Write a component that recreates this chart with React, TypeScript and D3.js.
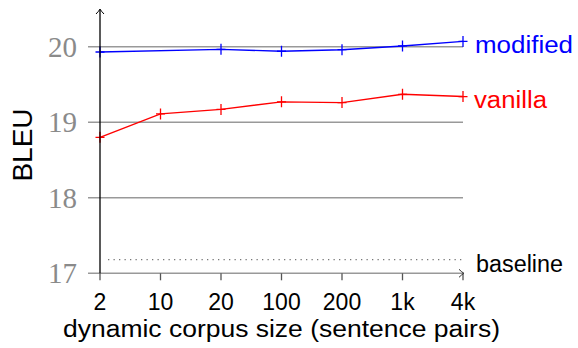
import React, { useEffect, useRef } from 'react';
import * as d3 from 'd3';

const categories = ['2', '10', '20', '100', '200', '1k', '4k'];
const vanilla = [18.8, 19.11, 19.17, 19.27, 19.26, 19.37, 19.34];
// no point for "10" in the modified run
const modified = [19.93, null, 19.965, 19.94, 19.96, 20.01, 20.07];
const baseline = 17.18;
const yTicks = [17, 18, 19, 20];

const App = () => {
  const svgRef = useRef<SVGSVGElement>(null);

  useEffect(() => {
    const boxWidth = 578;
    const boxHeight = 348;
    const sans = "'Liberation Sans', Arial, sans-serif";
    const serif = "'Liberation Serif', 'Times New Roman', serif";
    const gridColor = '#999999';

    const svg = d3.select(svgRef.current);
    svg.selectAll('*').remove();
    svg.attr('width', boxWidth).attr('height', boxHeight);

    const x = d3.scalePoint<string>()
      .domain(categories)
      .range([100, 463]);

    const y = d3.scaleLinear()
      .domain([17, 20])
      .range([273.3, 46.7]);

    // grid lines (17 doubles as the x axis line)
    svg.append('g')
      .selectAll('line')
      .data(yTicks)
      .join('line')
      .attr('x1', 88)
      .attr('x2', 463)
      .attr('y1', d => y(d))
      .attr('y2', d => y(d))
      .attr('stroke', gridColor)
      .attr('stroke-width', 1.6);

    // y tick labels
    svg.append('g')
      .selectAll('text')
      .data(yTicks)
      .join('text')
      .attr('x', 77)
      .attr('y', d => y(d) + 10)
      .attr('text-anchor', 'end')
      .style('font-family', serif)
      .style('font-size', '29px')
      .style('fill', '#8a8a8a')
      .text(d => d);

    // x ticks
    svg.append('g')
      .selectAll('line')
      .data(categories)
      .join('line')
      .attr('x1', d => x(d)!)
      .attr('x2', d => x(d)!)
      .attr('y1', y(17))
      .attr('y2', y(17) + 7)
      .attr('stroke', '#555')
      .attr('stroke-width', 1.3);

    svg.append('g')
      .selectAll('text')
      .data(categories)
      .join('text')
      .attr('x', d => x(d)!)
      .attr('y', 310)
      .attr('text-anchor', 'middle')
      .style('font-family', sans)
      .style('font-size', '23px')
      .style('fill', '#000')
      .text(d => d);

    // x axis arrow head
    const xe = x('4k')!;
    const y0 = y(17);
    svg.append('path')
      .attr('d', `M${xe - 4},${y0 - 4} Q${xe - 1},${y0 - 1} ${xe + 1},${y0} Q${xe - 1},${y0 + 1} ${xe - 4},${y0 + 4}`)
      .attr('fill', 'none')
      .attr('stroke', '#333')
      .attr('stroke-width', 1);

    // baseline (dotted)
    svg.append('line')
      .attr('x1', 108)
      .attr('x2', 463)
      .attr('y1', y(baseline))
      .attr('y2', y(baseline))
      .attr('stroke', '#777')
      .attr('stroke-width', 1.3)
      .attr('stroke-dasharray', '1.3,4.2');

    const drawSeries = (values: (number | null)[], color: string) => {
      const pts = categories
        .map((c, i) => ({ c, v: values[i] }))
        .filter(d => d.v !== null) as { c: string; v: number }[];

      const line = d3.line<{ c: string; v: number }>()
        .x(d => x(d.c)!)
        .y(d => y(d.v));

      svg.append('path')
        .datum(pts)
        .attr('d', line)
        .attr('fill', 'none')
        .attr('stroke', color)
        .attr('stroke-width', 1.4);

      const g = svg.append('g');
      g.selectAll('path')
        .data(pts)
        .join('path')
        .attr('d', d => {
          const px = x(d.c)!;
          const py = y(d.v);
          return `M${px - 4.5},${py}H${px + 4.5}M${px},${py - 5.5}V${py + 5.5}`;
        })
        .attr('stroke', color)
        .attr('stroke-width', 1.3);
    };

    drawSeries(vanilla, '#ff0000');
    drawSeries(modified, '#0000ff');

    // y axis with arrow
    svg.append('line')
      .attr('x1', 100)
      .attr('x2', 100)
      .attr('y1', y(17))
      .attr('y2', 10)
      .attr('stroke', '#000')
      .attr('stroke-width', 1.3);
    svg.append('path')
      .attr('d', 'M96,14 Q99,11 100,9 Q101,11 104,14')
      .attr('fill', 'none')
      .attr('stroke', '#000')
      .attr('stroke-width', 1);

    // series labels
    svg.append('text')
      .attr('x', 475)
      .attr('y', 52.5)
      .attr('textLength', 98)
      .attr('lengthAdjust', 'spacingAndGlyphs')
      .style('font-family', sans)
      .style('font-size', '23px')
      .style('fill', '#0000ff')
      .text('modified');

    svg.append('text')
      .attr('x', 474)
      .attr('y', 107.5)
      .attr('textLength', 73)
      .attr('lengthAdjust', 'spacingAndGlyphs')
      .style('font-family', sans)
      .style('font-size', '23px')
      .style('fill', '#ff0000')
      .text('vanilla');

    svg.append('text')
      .attr('x', 476)
      .attr('y', 272)
      .attr('textLength', 87)
      .attr('lengthAdjust', 'spacingAndGlyphs')
      .style('font-family', sans)
      .style('font-size', '23px')
      .style('fill', '#000')
      .text('baseline');

    // axis titles
    svg.append('text')
      .attr('x', 63)
      .attr('y', 337)
      .attr('textLength', 437)
      .attr('lengthAdjust', 'spacingAndGlyphs')
      .style('font-family', sans)
      .style('font-size', '23px')
      .style('fill', '#000')
      .text('dynamic corpus size (sentence pairs)');

    svg.append('text')
      .attr('transform', 'translate(32,145) rotate(-90)')
      .attr('text-anchor', 'middle')
      .style('font-family', sans)
      .style('font-size', '28px')
      .style('fill', '#000')
      .text('BLEU');
  }, []);

  return (
    <svg
      ref={svgRef}
      style={{ position: 'absolute', left: 0, top: 0, backgroundColor: 'white', display: 'block' }}
    ></svg>
  );
};

export default App;
